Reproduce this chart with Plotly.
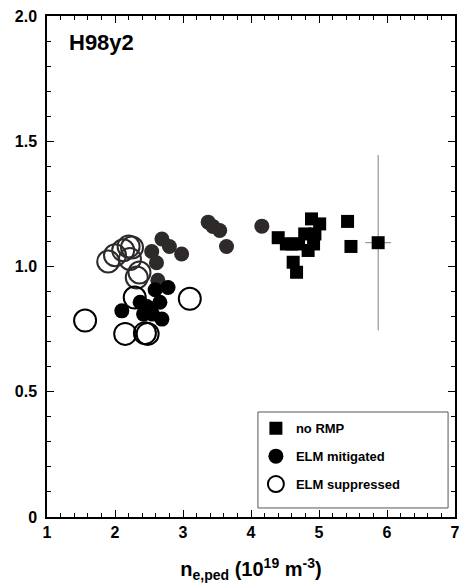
import plotly.graph_objects as go

# Pedestal density (1e19 m^-3) vs H98y2 for three ELM regimes
no_rmp_x = [4.89, 5.01, 5.42, 4.40, 4.52, 4.60, 4.70, 4.79, 4.94, 4.92, 4.84, 5.47, 4.62, 4.67]
no_rmp_y = [1.19, 1.17, 1.18, 1.115, 1.09, 1.09, 1.09, 1.13, 1.13, 1.09, 1.064, 1.08, 1.017, 0.977]

# representative point with uncertainty
err_x = [5.87]
err_y = [1.095]
err_dx = [0.19]
err_dy = [0.35]

mitig_a_x = [3.37, 3.44, 3.54, 3.64, 4.16, 2.69, 2.80, 2.98, 2.54, 2.61, 2.63]
mitig_a_y = [1.177, 1.16, 1.144, 1.08, 1.161, 1.11, 1.08, 1.05, 1.06, 1.015, 0.945]
mitig_b_x = [2.10, 2.37, 2.59, 2.78, 2.66, 2.51, 2.42, 2.69, 2.55, 2.47]
mitig_b_y = [0.823, 0.857, 0.907, 0.916, 0.857, 0.831, 0.81, 0.79, 0.81, 0.84]

supp_a_x = [1.90, 2.00, 2.12, 2.20, 2.25, 2.22, 2.32, 2.36]
supp_a_y = [1.02, 1.045, 1.065, 1.08, 1.076, 1.03, 0.956, 0.976]
supp_b_x = [1.56, 2.29, 3.10, 2.15, 2.44, 2.48]
supp_b_y = [0.784, 0.876, 0.871, 0.731, 0.734, 0.731]

x_ticks = [1, 2, 3, 4, 5, 6, 7]
y_ticks = [0, 0.5, 1.0, 1.5, 2.0]
y_tick_text = ["0", "0.5", "1.0", "1.5", "2.0"]

FONT = "Liberation Sans, Arial, sans-serif"
GRAY = "#2f2a2a"

fig = go.Figure()

fig.add_trace(go.Scatter(
    x=supp_a_x, y=supp_a_y, mode="markers", showlegend=False,
    marker=dict(symbol="circle-open", size=22, color=GRAY, line=dict(width=2, color=GRAY)),
))
fig.add_trace(go.Scatter(
    x=supp_b_x, y=supp_b_y, mode="markers", showlegend=False,
    marker=dict(symbol="circle-open", size=22, color="black", line=dict(width=2, color="black")),
))
fig.add_trace(go.Scatter(
    x=mitig_a_x, y=mitig_a_y, mode="markers", showlegend=False,
    marker=dict(symbol="circle", size=15, color=GRAY, line=dict(width=0)),
))
fig.add_trace(go.Scatter(
    x=mitig_b_x, y=mitig_b_y, mode="markers", showlegend=False,
    marker=dict(symbol="circle", size=15, color="black", line=dict(width=0)),
))
fig.add_trace(go.Scatter(
    x=no_rmp_x, y=no_rmp_y, mode="markers", showlegend=False,
    marker=dict(symbol="square", size=13, color="black", line=dict(width=0)),
))
fig.add_trace(go.Scatter(
    x=err_x, y=err_y, mode="markers", showlegend=False,
    marker=dict(symbol="square", size=13, color="black", line=dict(width=0)),
    error_y=dict(type="data", array=err_dy, color="#808080", thickness=1, width=0),
    error_x=dict(type="data", array=err_dx, color="#808080", thickness=1, width=0),
))

# legend entries
fig.add_trace(go.Scatter(
    x=[None], y=[None], mode="markers", name="no RMP", legendgroup="a",
    marker=dict(symbol="square", size=13, color="black"),
))
fig.add_trace(go.Scatter(
    x=[None], y=[None], mode="markers", name="ELM mitigated", legendgroup="b",
    marker=dict(symbol="circle", size=15, color="black"),
))
fig.add_trace(go.Scatter(
    x=[None], y=[None], mode="markers", name="ELM suppressed", legendgroup="c",
    marker=dict(symbol="circle-open", size=22, color="black", line=dict(width=2, color="black")),
))

axis_common = dict(
    showline=True, linecolor="black", linewidth=1.5, mirror="ticks",
    ticks="inside", ticklen=7, tickwidth=1, tickcolor="black",
    showgrid=False, zeroline=False, automargin=False,
    tickfont=dict(family=FONT, size=16, color="black", weight="bold"),
)

fig.update_xaxes(
    range=[1, 7], tickvals=x_ticks,
    minor=dict(ticks="inside", dtick=0.2, ticklen=4, tickcolor="black", tickwidth=1),
    title=dict(text="n<sub>e,ped</sub> (10<sup>19</sup> m<sup>-3</sup>)",
               font=dict(family=FONT, size=20, color="black", weight="bold"), standoff=22),
    **axis_common,
)
fig.update_yaxes(
    range=[0, 2], tickvals=y_ticks, ticktext=y_tick_text,
    minor=dict(ticks="inside", dtick=0.1, ticklen=4, tickcolor="black", tickwidth=1),
    ticklabelstandoff=5,
    **axis_common,
)

fig.add_annotation(
    x=0.05, y=0.948, xref="paper", yref="paper", xanchor="left", yanchor="middle",
    text="H98y2", showarrow=False,
    font=dict(family=FONT, size=22, color="black", weight="bold"),
)

# legend frame
fig.add_shape(
    type="rect", xref="paper", yref="paper", x0=0.517, x1=0.983, y0=0.018, y1=0.2096,
    line=dict(color="#555555", width=1), fillcolor="white", layer="below",
)

fig.update_layout(
    width=463, height=586,
    margin=dict(l=47, r=8, t=16, b=69),
    paper_bgcolor="white", plot_bgcolor="rgba(0,0,0,0)",
    showlegend=True,
    legend=dict(
        x=0.512, y=0.207, xanchor="left", yanchor="top",
        bgcolor="rgba(0,0,0,0)", borderwidth=0,
        font=dict(family=FONT, size=13, color="black", weight="bold"),
        tracegroupgap=8, itemsizing="trace",
    ),
)

fig.write_html("out.html")
